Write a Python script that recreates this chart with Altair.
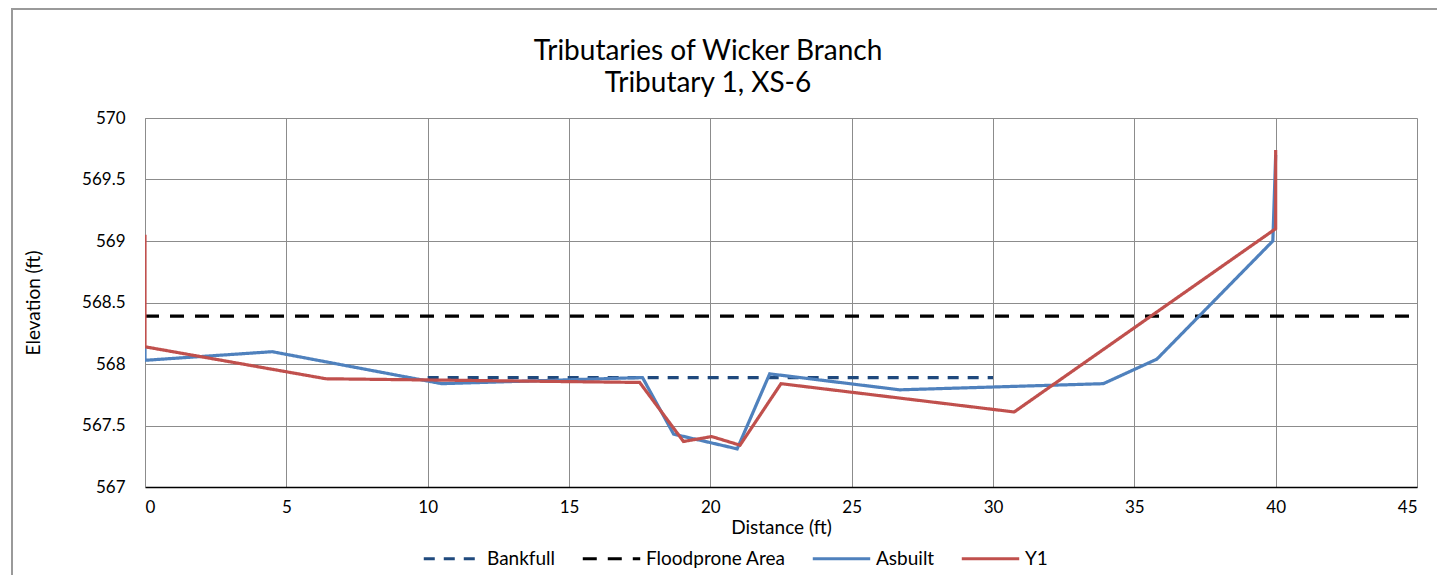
import altair as alt
import pandas as pd

# ---- data ----
asbuilt_x = [0, 0, 4.5, 10.5, 17.6, 18.7, 20.95, 22.1, 26.7, 33.9, 35.8, 39.9, 40.0]
asbuilt_y = [568.13, 568.03, 568.10, 567.84, 567.89, 567.43, 567.31, 567.92, 567.79, 567.84, 568.04, 569.0, 569.7]

y1_x = [0, 0, 6.4, 17.5, 19.05, 20.05, 21.05, 22.5, 30.75, 40.0, 40.0]
y1_y = [569.05, 568.14, 567.88, 567.85, 567.37, 567.41, 567.34, 567.84, 567.61, 569.1, 569.74]

bankfull_x = [10, 30]
bankfull_y = [567.89, 567.89]

floodprone_x = [0, 45]
floodprone_y = [568.39, 568.39]

x_ticks = [0, 5, 10, 15, 20, 25, 30, 35, 40, 45]
y_ticks = [567, 567.5, 568, 568.5, 569, 569.5, 570]

series_names = ["Bankfull", "Floodprone Area", "Asbuilt", "Y1"]
series_colors = ["#1F497D", "#000000", "#4F81BD", "#C0504D"]
series_dash = [[11, 9], [14, 11], [1, 0], [1, 0]]

rows = []
for name, xs, ys in [("Bankfull", bankfull_x, bankfull_y),
                     ("Floodprone Area", floodprone_x, floodprone_y),
                     ("Asbuilt", asbuilt_x, asbuilt_y),
                     ("Y1", y1_x, y1_y)]:
    for i, (xv, yv) in enumerate(zip(xs, ys)):
        rows.append({"series": name, "x": xv, "y": yv, "order": i})
df = pd.DataFrame(rows)

FONT = "Lato"
W, H = 1272, 369

legend_kw = dict(orient="none", legendX=277, legendY=410,
                 direction="horizontal", symbolType="stroke",
                 symbolSize=3300, symbolStrokeWidth=3,
                 labelFontSize=19, labelFont=FONT, labelColor="#000",
                 columnPadding=20, labelOffset=4)

lines = alt.Chart(df).mark_line(strokeWidth=3.2, clip=True).encode(
    x=alt.X("x:Q", title="Distance (ft)",
            scale=alt.Scale(domain=[0, 45], nice=False, zero=False),
            axis=alt.Axis(values=x_ticks, grid=True, gridColor="#8c8c8c",
                          domainColor="#000000", domainWidth=1.5, ticks=False,
                          labelFontSize=17, labelPadding=12, labelColor="#000",
                          titleFontSize=19, titleFontWeight="normal", titlePadding=3,
                          titleColor="#000", labelFont=FONT, titleFont=FONT)),
    y=alt.Y("y:Q", title="Elevation (ft)",
            scale=alt.Scale(domain=[567, 570], nice=False, zero=False),
            axis=alt.Axis(values=y_ticks, grid=True, labelExpr="datum.value + ''",
                          gridColor="#8c8c8c", domainColor="#8c8c8c", ticks=False,
                          labelFontSize=17, labelPadding=20, labelColor="#000",
                          titleFontSize=19, titleFontWeight="normal", titlePadding=38,
                          titleColor="#000", labelFont=FONT, titleFont=FONT)),
    color=alt.Color("series:N", title=None,
                    scale=alt.Scale(domain=series_names, range=series_colors),
                    legend=alt.Legend(**legend_kw)),
    strokeDash=alt.StrokeDash("series:N", title=None,
                              scale=alt.Scale(domain=series_names, range=series_dash),
                              legend=alt.Legend(**legend_kw)),
    order="order:Q",
)

border_df = pd.DataFrame({"a": [0]})
left_border = alt.Chart(border_df).mark_rule(stroke="#9a9a9a", strokeWidth=2).encode(
    x=alt.value(-133), y=alt.value(-110), y2=alt.value(H + 88)
)
top_border = alt.Chart(border_df).mark_rule(stroke="#9a9a9a", strokeWidth=2).encode(
    x=alt.value(-133), x2=alt.value(W + 20), y=alt.value(-109)
)

chart = alt.layer(left_border, top_border, lines).properties(
    width=W, height=H,
    title=alt.TitleParams(["Tributaries of Wicker Branch", "Tributary 1, XS-6"],
                          fontSize=28, fontWeight="normal", font=FONT, color="#000",
                          lineHeight=32, anchor="middle", frame="group",
                          dx=-73, dy=113, offset=22),
    padding={"left": 137, "top": 110, "right": 20, "bottom": 88},
    autosize=alt.AutoSizeParams(type="none"),
).configure_view(stroke=None).configure(background="white")

chart.save("out.html", embed_options={"renderer": "svg", "actions": False})
